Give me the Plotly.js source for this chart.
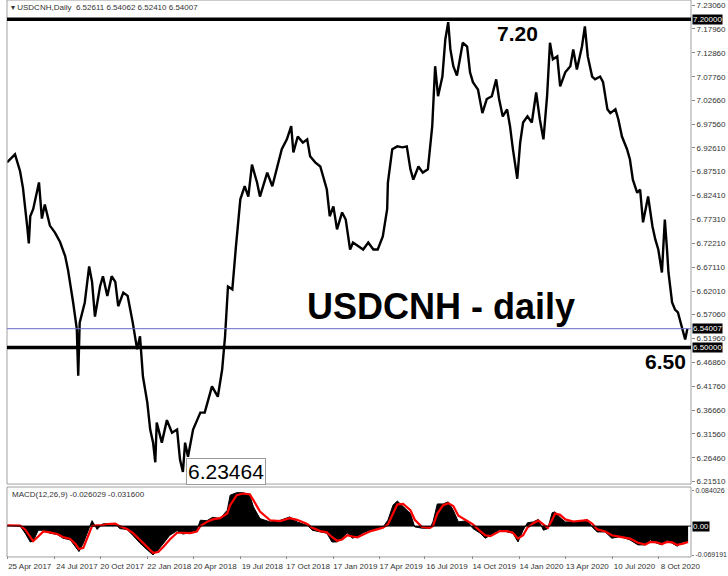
<!DOCTYPE html>
<html>
<head>
<meta charset="utf-8">
<script src="https://cdn.plot.ly/plotly-3.0.1.min.js"></script>
<style>html,body{margin:0;padding:0;background:#fff;}#chart{width:728px;height:576px;}</style>
</head>
<body>
<div id="chart"></div>
<script>
// ---- price data (bar index since 25 Apr 2017, daily close samples) ----
const priceIdx = [0,11,18,22,28,30,32,36,44,48,52,59,66,73,80,84,91,96,98,100,107,113,117,121,128,132,138,144,149,153,160,166,173,179,183,187,193,197,201,204,206,213,220,227,234,238,242,245,249,256,266,272,282,290,296,300,304,310,315,321,327,332,337,344,348,358,365,372,378,385,391,394,400,407,413,417,424,431,435,440,444,449,454,461,466,472,476,483,490,497,504,510,517,523,524,530,537,544,550,555,559,566,572,579,585,589,593,599,603,607,610,614,619,623,627,633,637,641,648,654,660,667,673,677,682,688,692,696,702,706,710,716,722,728,733,738,743,747,751,757,761,768,775,779,784,791,795,799,805,809,816,820,826,830,837,841,846,853,857,861,867,871,875,882,888,892,896,901,905,908,910,915,919,923,929,933,936];
const priceClose = [6.895,6.912,6.876,6.840,6.755,6.722,6.780,6.795,6.852,6.775,6.805,6.760,6.745,6.725,6.695,6.665,6.596,6.540,6.440,6.553,6.596,6.673,6.640,6.566,6.630,6.652,6.610,6.652,6.640,6.588,6.617,6.610,6.553,6.496,6.524,6.438,6.383,6.325,6.297,6.255,6.340,6.297,6.345,6.318,6.325,6.261,6.23464,6.297,6.267,6.325,6.361,6.361,6.417,6.395,6.453,6.524,6.630,6.624,6.716,6.816,6.844,6.822,6.890,6.852,6.822,6.873,6.844,6.886,6.923,6.944,6.972,6.916,6.950,6.937,6.944,6.908,6.895,6.886,6.865,6.837,6.780,6.801,6.752,6.788,6.773,6.709,6.724,6.716,6.709,6.724,6.709,6.709,6.737,6.795,6.852,6.923,6.929,6.927,6.929,6.880,6.858,6.886,6.873,6.880,6.972,7.100,7.036,7.078,7.157,7.194,7.136,7.100,7.080,7.115,7.150,7.142,7.087,7.066,7.050,7.000,7.030,7.036,7.072,7.030,6.993,7.008,6.972,6.923,6.860,6.937,6.980,6.993,6.980,7.044,6.987,6.944,7.036,7.150,7.115,7.121,7.057,7.087,7.100,7.136,7.093,7.142,7.185,7.121,7.078,7.072,7.078,7.066,7.008,7.000,7.008,6.987,6.950,6.923,6.901,6.858,6.830,6.837,6.767,6.822,6.758,6.730,6.709,6.660,6.773,6.709,6.660,6.596,6.581,6.575,6.540,6.517,6.540];

// ---- MACD(12,26,9) ----
const macdIdx = [0,18,25,32,36,43,50,59,69,77,87,94,99,105,110,117,124,131,138,149,155,165,173,183,193,201,208,215,224,234,242,252,261,266,275,283,293,303,307,316,325,334,339,348,362,376,389,399,413,420,431,440,447,454,461,468,475,482,490,499,509,517,524,531,537,545,555,561,571,582,586,592,600,607,614,621,633,641,651,658,665,678,688,696,703,710,716,724,731,738,744,750,754,761,768,779,793,798,805,812,823,832,844,857,868,878,885,894,901,908,915,922,930,937];
const macdMain = [0.002,0.000,-0.017,-0.038,-0.036,-0.010,-0.010,-0.017,-0.020,-0.029,-0.033,-0.050,-0.061,-0.041,-0.017,0.013,-0.008,0.005,0.006,0.006,-0.006,-0.008,-0.022,-0.041,-0.057,-0.069,-0.057,-0.041,-0.022,-0.011,-0.019,-0.016,-0.010,0.014,0.013,0.021,0.018,0.038,0.074,0.080,0.080,0.074,0.046,0.018,0.010,0.014,0.022,0.010,0.002,-0.010,-0.014,-0.017,-0.038,-0.038,-0.029,-0.016,-0.029,-0.025,-0.016,-0.010,-0.006,-0.003,0.014,0.050,0.060,0.046,0.030,-0.002,-0.005,-0.005,0.010,0.053,0.053,0.058,0.038,0.010,0.013,-0.006,-0.017,-0.029,-0.022,-0.008,-0.014,-0.017,-0.038,-0.010,0.008,0.010,0.016,-0.010,-0.006,0.032,0.034,0.020,0.010,0.010,0.013,0.016,-0.002,-0.014,-0.014,-0.029,-0.025,-0.033,-0.045,-0.045,-0.033,-0.041,-0.045,-0.033,-0.041,-0.048,-0.038,-0.036];
const macdSignal = [0.002,0.001,-0.008,-0.028,-0.036,-0.025,-0.013,-0.015,-0.019,-0.026,-0.031,-0.042,-0.055,-0.052,-0.032,0.000,0.002,0.002,0.005,0.006,0.000,-0.007,-0.016,-0.034,-0.050,-0.064,-0.062,-0.050,-0.032,-0.016,-0.016,-0.017,-0.013,0.000,0.010,0.016,0.019,0.030,0.050,0.074,0.078,0.076,0.062,0.035,0.014,0.012,0.019,0.015,0.005,-0.004,-0.012,-0.015,-0.026,-0.035,-0.032,-0.022,-0.025,-0.027,-0.020,-0.013,-0.008,-0.004,0.004,0.030,0.052,0.053,0.038,0.015,-0.002,-0.004,0.000,0.030,0.050,0.055,0.048,0.025,0.012,0.004,-0.012,-0.022,-0.024,-0.012,-0.012,-0.016,-0.030,-0.022,-0.004,0.007,0.013,0.004,-0.004,0.015,0.030,0.027,0.016,0.011,0.012,0.014,0.006,-0.008,-0.013,-0.022,-0.026,-0.030,-0.040,-0.044,-0.038,-0.039,-0.043,-0.038,-0.039,-0.045,-0.042,-0.038];

// ---- axis labels ----
const dateTickIdx = [1,66,128,193,256,321,384,449,512,575,640,705,768,833,896];
const dateTickText = ["25 Apr 2017","24 Jul 2017","20 Oct 2017","22 Jan 2018","20 Apr 2018","19 Jul 2018","17 Oct 2018","17 Jan 2019","17 Apr 2019","16 Jul 2019","14 Oct 2019","14 Jan 2020","13 Apr 2020","10 Jul 2020","8 Oct 2020"];
const priceTicks = [7.2306,7.1796,7.1286,7.0776,7.0266,6.9756,6.9261,6.8751,6.8241,6.7731,6.7221,6.6711,6.6201,6.5706,6.5196,6.4686,6.4176,6.3666,6.3156,6.2646,6.2151];
const priceTickText = ["7.23060","7.17960","7.12860","7.07760","7.02660","6.97560","6.92610","6.87510","6.82410","6.77310","6.72210","6.67110","6.62010","6.57060","6.51960","6.46860","6.41760","6.36660","6.31560","6.26460","6.21510"];
const macdTicks = [0.084026,-0.069191];
const macdTickText = ["0.084026","-0.069191"];

const levelHigh = 7.20, levelLow = 6.50, lastPrice = 6.54007, lowPrice = 6.23464, lowIdx = 242;

const F = "Liberation Sans, Arial, sans-serif";

const traces = [
  {type:'scatter', mode:'lines', x:priceIdx, y:priceClose, xaxis:'x', yaxis:'y',
   line:{color:'#000', width:2.4}, hoverinfo:'skip'},
  {type:'scatter', mode:'lines', x:macdIdx, y:macdMain, xaxis:'x', yaxis:'y2',
   fill:'tozeroy', fillcolor:'#000', line:{color:'#000', width:1}, hoverinfo:'skip'},
  {type:'scatter', mode:'lines', x:macdIdx, y:macdSignal, xaxis:'x', yaxis:'y2',
   line:{color:'#ff0000', width:2.2}, hoverinfo:'skip'}
];

const frameCol = '#a0a0a0';
const layout = {
  width:728, height:576,
  margin:{l:7, r:37, t:5, b:21},
  paper_bgcolor:'#fff', plot_bgcolor:'#fff',
  showlegend:false,
  font:{family:F, size:8, color:'#333'},
  xaxis:{range:[0,941], anchor:'y2', tickvals:dateTickIdx, ticktext:dateTickText, tickangle:0,
         ticks:'outside', ticklen:3, tickcolor:'#888', showgrid:false, zeroline:false, showline:false,
         tickfont:{family:F, size:8, color:'#333'}, ticklabelshift:22, automargin:false, fixedrange:true},
  yaxis:{domain:[0.1345,1], range:[6.2151,7.2306], side:'right', tickvals:priceTicks, ticktext:priceTickText,
         ticks:'outside', ticklen:3, tickcolor:'#888', showgrid:false, zeroline:false, showline:false,
         automargin:false, tickfont:{family:F, size:8, color:'#333'}},
  yaxis2:{domain:[0,0.1164], range:[-0.069191,0.084026], side:'right', tickvals:macdTicks, ticktext:macdTickText,
         ticks:'outside', ticklen:2, tickcolor:'#888', showgrid:false, zeroline:false, showline:false,
         automargin:false, tickfont:{family:F, size:7, color:'#333'}},
  shapes:[
    {type:'rect', xref:'paper', yref:'paper', x0:0, x1:1, y0:0.129, y1:1.009, line:{color:frameCol, width:1}},
    {type:'rect', xref:'paper', yref:'paper', x0:0, x1:1, y0:-0.0036, y1:0.1236, line:{color:frameCol, width:1}},
    {type:'line', xref:'paper', yref:'y', x0:0, x1:1, y0:lastPrice, y1:lastPrice, line:{color:'#6a6ad0', width:1}},
    {type:'line', xref:'paper', yref:'y', x0:0, x1:1, y0:levelHigh, y1:levelHigh, line:{color:'#000', width:3.5}},
    {type:'line', xref:'paper', yref:'y', x0:0, x1:1, y0:levelLow, y1:levelLow, line:{color:'#000', width:3.5}},
    {type:'line', xref:'paper', yref:'y2', x0:0, x1:1, y0:0, y1:0, line:{color:'#000', width:1}}
  ],
  annotations:[
    {xref:'paper', yref:'paper', x:0.003, y:1.007, xanchor:'left', yanchor:'top', showarrow:false,
     text:'▾ USDCNH,Daily  6.52611 6.54062 6.52410 6.54007', font:{family:F, size:8, color:'#333'}},
    {xref:'paper', yref:'paper', x:0.004, y:0.121, xanchor:'left', yanchor:'top', showarrow:false,
     text:'MACD(12,26,9) -0.026029 -0.031600', font:{family:F, size:8, color:'#333'}},
    {xref:'paper', yref:'y', x:1, y:levelHigh, xanchor:'left', xshift:1, showarrow:false, text:'7.20000',
     bgcolor:'#000', font:{family:F, size:8, color:'#fff'}, borderpad:0},
    {xref:'paper', yref:'y', x:1, y:lastPrice, xanchor:'left', xshift:1, showarrow:false, text:'6.54007',
     bgcolor:'#000', font:{family:F, size:8, color:'#fff'}, borderpad:0},
    {xref:'paper', yref:'y', x:1, y:levelLow, xanchor:'left', xshift:1, showarrow:false, text:'6.50000',
     bgcolor:'#000', font:{family:F, size:8, color:'#fff'}, borderpad:0},
    {xref:'paper', yref:'y2', x:1, y:0, xanchor:'left', xshift:1, showarrow:false, text:'0.00',
     bgcolor:'#000', font:{family:F, size:8, color:'#fff'}, borderpad:0},
    {xref:'paper', yref:'y', x:0.747, y:levelHigh, xanchor:'center', yanchor:'top', yshift:-1, showarrow:false, text:'<b>7.20</b>',
     font:{family:F, size:21, color:'#000'}},
    {xref:'paper', yref:'y', x:0.962, y:levelLow, xanchor:'center', yanchor:'top', yshift:-1, showarrow:false, text:'<b>6.50</b>',
     font:{family:F, size:21, color:'#000'}},
    {xref:'paper', yref:'y', x:0.6345, y:6.5875, xanchor:'center', yanchor:'middle', showarrow:false, text:'<b>USDCNH - daily</b>',
     font:{family:F, size:36, color:'#000'}},
    {xref:'x', yref:'y', x:lowIdx, y:lowPrice, xanchor:'left', yanchor:'middle', xshift:3, showarrow:false,
     text:'6.23464', bgcolor:'#fff', bordercolor:'#999', borderwidth:1, borderpad:1,
     font:{family:F, size:21, color:'#000'}}
  ]
};

Plotly.newPlot('chart', traces, layout, {displayModeBar:false, staticPlot:true});
</script>
</body>
</html>
